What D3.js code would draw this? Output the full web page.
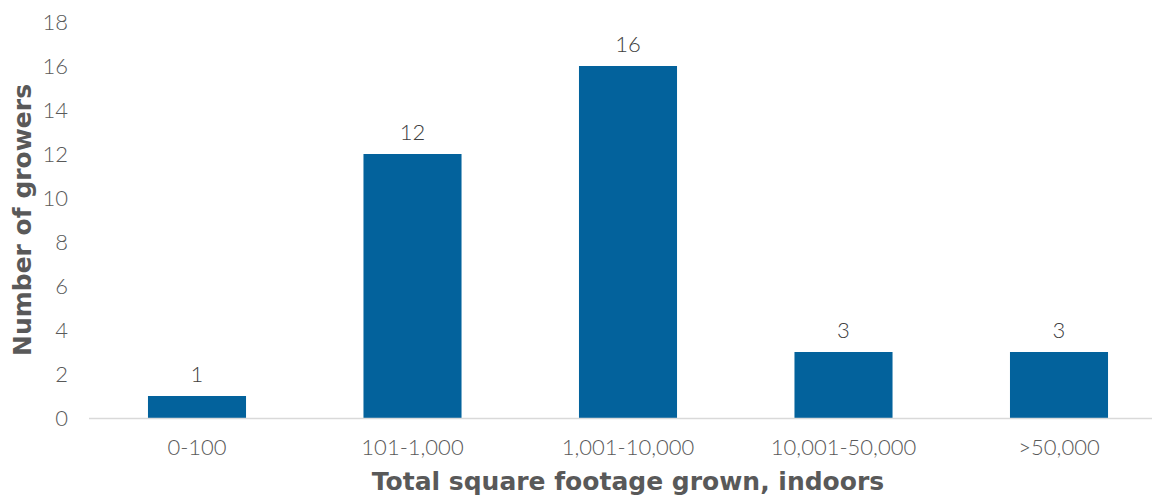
<!DOCTYPE html>
<html><head><meta charset="utf-8">
<script src="https://cdn.jsdelivr.net/npm/d3@7"></script>
<style>
html,body{margin:0;padding:0;background:#fff;}
svg{display:block;}
</style></head>
<body>
<svg id="chart" width="1152" height="496"></svg>
<script>
const categories = ["0-100","101-1,000","1,001-10,000","10,001-50,000",">50,000"];
const values = [1,12,16,3,3];
const yTicks = [0,2,4,6,8,10,12,14,16,18];
const yTitle = "Number of growers";
const xTitle = "Total square footage grown, indoors";

const svg = d3.select("#chart");
const x = d3.scaleBand().domain(categories).range([89.25,1166.75]).paddingInner(0.545).paddingOuter(0.2725);
const y = d3.scaleLinear().domain([0,18]).range([418,22]);

svg.selectAll("rect.bar").data(values).join("rect")
  .attr("class","bar")
  .attr("x",(d,i)=>x(categories[i]))
  .attr("width",x.bandwidth())
  .attr("y",d=>y(d))
  .attr("height",d=>y(0)-y(d))
  .attr("fill","#03629c");

svg.append("line").attr("x1",89).attr("x2",1152).attr("y1",418.5).attr("y2",418.5)
  .attr("stroke","#d9d9d9").attr("stroke-width",1.5);

const lightText = sel => sel.style("font-family","Lato, sans-serif").style("font-size","22px")
  .style("font-weight","300").attr("fill","#595959");

const yAxis = d3.axisLeft(y).tickValues(yTicks).tickSize(0).tickPadding(0);
const gy = svg.append("g").attr("transform","translate(68,0)").call(yAxis);
gy.select(".domain").remove();
gy.selectAll("text").call(lightText);

const xAxis = d3.axisBottom(x).tickSize(0).tickPadding(0);
const gx = svg.append("g").attr("transform","translate(0,439)").call(xAxis);
gx.select(".domain").remove();
gx.selectAll("text").call(lightText);

svg.selectAll("text.val").data(values).join("text")
  .attr("class","val")
  .attr("x",(d,i)=>x(categories[i])+x.bandwidth()/2)
  .attr("y",d=>y(d)-14)
  .attr("text-anchor","middle")
  .call(lightText).attr("fill","#404040")
  .text(d=>d);

const boldText = sel => sel.style("font-family","'DejaVu Sans', sans-serif").style("font-size","25px")
  .style("font-weight","700").attr("fill","#595959");

svg.append("text").attr("transform","translate(31,220) rotate(-90)")
  .attr("text-anchor","middle").call(boldText).text(yTitle);
svg.append("text").attr("x",628).attr("y",490)
  .attr("text-anchor","middle").call(boldText).text(xTitle);
</script>
</body></html>
